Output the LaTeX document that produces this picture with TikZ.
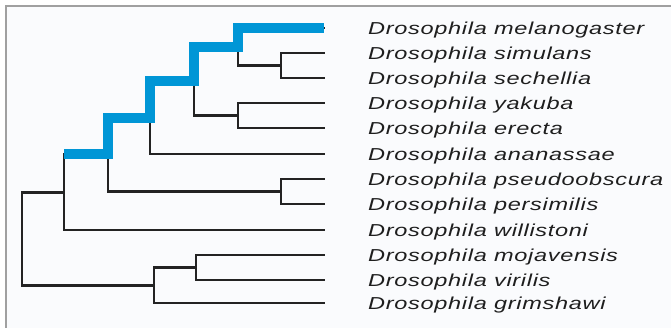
\documentclass[tikz,border=0pt]{standalone}
\usepackage{fontspec}
\newfontfamily\labfont[FakeStretch=1.36,LetterSpace=4]{Liberation Sans}
\definecolor{pathblue}{RGB}{0,150,214}
\definecolor{branch}{RGB}{35,35,35}
\definecolor{labtext}{RGB}{30,30,30}
\definecolor{framegray}{RGB}{160,160,160}
\definecolor{bgpanel}{RGB}{250,251,253}
\begin{document}
\begin{tikzpicture}[x=1pt,y=-1pt,
  br/.style={draw=branch,line width=2.6pt,line join=miter,line cap=rect},
  hl/.style={draw=pathblue,line width=10pt,line join=miter,line cap=butt},
  lab/.style={anchor=base west,inner sep=0pt,text=labtext,
    font=\labfont\itshape\fontsize{17.3}{20}\selectfont}]
\useasboundingbox (0,0) rectangle (671,328);
\fill[white] (0,0) rectangle (671,328);
\fill[bgpanel] (6,6) rectangle (671,328);
\draw[framegray,line width=1.3pt] (6,328) -- (6,6) -- (671,6);
% leaves
\coordinate (l1) at (324,28);
\coordinate (l2) at (324,53);
\coordinate (l3) at (324,78);
\coordinate (l4) at (324,103);
\coordinate (l5) at (324,128);
\coordinate (l6) at (324,154);
\coordinate (l7) at (324,179);
\coordinate (l8) at (324,204);
\coordinate (l9) at (324,230);
\coordinate (l10) at (324,255);
\coordinate (l11) at (324,280);
\coordinate (l12) at (324,303);
% internal nodes
\coordinate (n23) at (281,65.5);
\coordinate (n123) at (238,46.75);
\coordinate (n45) at (238,115.5);
\coordinate (n15) at (194,81.1);
\coordinate (n16) at (150,117.6);
\coordinate (n78) at (281,191.5);
\coordinate (n18) at (108,154.5);
\coordinate (n19) at (64,192.3);
\coordinate (n1011) at (196,267.5);
\coordinate (n1012) at (154,285.3);
\coordinate (root) at (22,238.8);
% black branches
\draw[br] (l2) -| (n23) |- (l3);
\draw[br] (l1) -| (n123) |- (n23);
\draw[br] (l4) -| (n45) |- (l5);
\draw[br] (n123) -| (n15) |- (n45);
\draw[br] (n15) -| (n16) |- (l6);
\draw[br] (l7) -| (n78) |- (l8);
\draw[br] (n16) -| (n18) |- (n78);
\draw[br] (n18) -| (n19) |- (l9);
\draw[br] (l10) -| (n1011) |- (l11);
\draw[br] (n1011) -| (n1012) |- (l12);
\draw[br] (n19) -| (root) |- (n1012);
% highlighted path
\draw[hl] (n19 |- n18) -- (n18) |- (n16) |- (n15) |- (n123) |- (l1);
% labels
\node[lab] (t1) at (368,34.3) {Drosophila melanogaster};
\node[lab] (t2) at (368,59.3) {Drosophila simulans};
\node[lab] (t3) at (368,84.3) {Drosophila sechellia};
\node[lab] (t4) at (368,109.3) {Drosophila yakuba};
\node[lab] (t5) at (368,134.3) {Drosophila erecta};
\node[lab] (t6) at (368,160.3) {Drosophila ananassae};
\node[lab] (t7) at (368,185.3) {Drosophila pseudoobscura};
\node[lab] (t8) at (368,210.3) {Drosophila persimilis};
\node[lab] (t9) at (368,236.3) {Drosophila willistoni};
\node[lab] (t10) at (368,261.3) {Drosophila mojavensis};
\node[lab] (t11) at (368,286.3) {Drosophila virilis};
\node[lab] (t12) at (368,309.3) {Drosophila grimshawi};
\end{tikzpicture}
\end{document}
